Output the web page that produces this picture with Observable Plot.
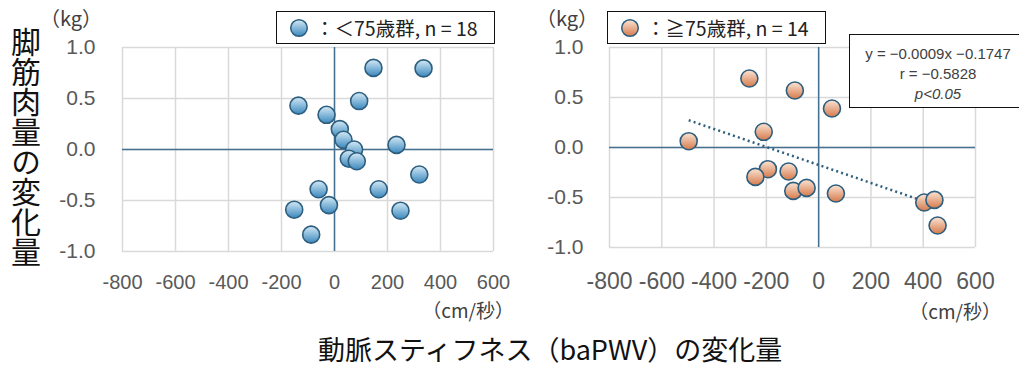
<!DOCTYPE html>
<html>
<head>
<meta charset="utf-8">
<script src="https://cdn.jsdelivr.net/npm/d3@7"></script>
<script src="https://cdn.jsdelivr.net/npm/@observablehq/plot@0.6"></script>
<style>
  html, body { margin: 0; padding: 0; background: #fff; }
  #wrap { position: relative; width: 1019px; height: 372px; overflow: hidden; background: #fff;
          font-family: "Noto Sans CJK JP", "Noto Sans", sans-serif; }
  .abs { position: absolute; white-space: nowrap; }
  .unit { font-size: 20px; color: #404040; line-height: 1; }
  .legend { border: 1.5px solid #111; background: #fff; box-sizing: border-box; height: 33px;
            font-size: 19.5px; color: #222; display: flex; align-items: center; padding-left: 12px; }
  .legend svg { margin-right: 6px; }
  .stats { border: 1.5px solid #111; background: #fff; box-sizing: border-box; font-family: "Liberation Sans", Arial, sans-serif;
           font-size: 15px; color: #404040; text-align: center; }
  .stats div { position: absolute; width: 176px; left: 0; text-align: center; line-height: 1; }
</style>
</head>
<body>
<div id="wrap"></div>
<script>
// ---- data ----
const xTicks = [-800, -600, -400, -200, 0, 200, 400, 600];
const yTicks = [-1.0, -0.5, 0.0, 0.5, 1.0];

// < 75 years group (n = 18)
const youngX = [147, 336, -136, 93, -30, 20, 34, 74, 234, 54, 84, 320, -60, 167, -21, -152, 249, -88];
const youngY = [0.80, 0.795, 0.43, 0.475, 0.34, 0.20, 0.095, 0.0, 0.045, -0.09, -0.115, -0.245, -0.39, -0.39, -0.545, -0.59, -0.60, -0.835];

// >= 75 years group (n = 14)
const oldX = [-265, -91, 51, -210, -497, -194, -242, -115, -97, -46, 66, 404, 443, 455];
const oldY = [0.69, 0.57, 0.39, 0.157, 0.063, -0.217, -0.294, -0.24, -0.434, -0.404, -0.46, -0.55, -0.524, -0.78];

// regression (>= 75 group): y = -0.0009x - 0.1747
const trendSlope = -0.0009;
const trendIntercept = -0.1747;

const young = youngX.map((x, i) => ({x, y: youngY[i]}));
const old = oldX.map((x, i) => ({x, y: oldY[i]}));
const trendXs = [d3.min(oldX), d3.max(oldX)];
const trend = trendXs.map(x => ({x, y: trendSlope * x + trendIntercept}));

const gridColor = "#d9d9d9";
const axisColor = "#46708f";
const dotStroke = "#2e5e7e";

function addGradients(svg) {
  const defs = d3.select(svg).insert("defs", ":first-child");
  const g1 = defs.append("linearGradient").attr("id", "gBlue").attr("x1", 0).attr("y1", 0).attr("x2", 0).attr("y2", 1);
  g1.append("stop").attr("offset", "0%").attr("stop-color", "#d4eaf6");
  g1.append("stop").attr("offset", "100%").attr("stop-color", "#3a87bd");
  const g2 = defs.append("linearGradient").attr("id", "gOrange").attr("x1", 0).attr("y1", 0).attr("x2", 0).attr("y2", 1);
  g2.append("stop").attr("offset", "0%").attr("stop-color", "#fbe4d5");
  g2.append("stop").attr("offset", "100%").attr("stop-color", "#d57a4a");
}

function panel(data, fillId, opts) {
  const marks = [
    Plot.gridX(xTicks, {stroke: gridColor, strokeOpacity: 1, strokeWidth: 1.5}),
    Plot.gridY(yTicks, {stroke: gridColor, strokeOpacity: 1, strokeWidth: 1.5}),
    Plot.ruleX([0], {stroke: axisColor, strokeWidth: 1.5}),
    Plot.ruleY([0], {stroke: axisColor, strokeWidth: 1.5}),
    Plot.axisY(yTicks, {tickSize: 0, tickPadding: opts.yPad, fontSize: 21, color: "#595959",
      tickFormat: d => d.toFixed(1), label: null}),
    Plot.axisX(xTicks, {tickSize: 0, tickPadding: opts.xPad, fontSize: opts.xFont, color: "#595959",
      tickFormat: d => String(d), label: null})
  ];
  if (opts.trend) {
    marks.push(Plot.line(opts.trend, {x: "x", y: "y", stroke: dotStroke, strokeWidth: 2.5,
      strokeDasharray: "2 3.2", strokeLinecap: "butt"}));
  }
  marks.push(Plot.dot(data, {x: "x", y: "y", r: 8.5, fill: `url(#${fillId})`, stroke: dotStroke, strokeWidth: 1.6}));
  const svg = Plot.plot({
    width: opts.width, height: 320,
    marginLeft: opts.ml, marginRight: opts.mr, marginTop: 47, marginBottom: opts.mb,
    x: {domain: [-800, 600]},
    y: {domain: [-1, 1]},
    style: {fontFamily: "'Liberation Sans', Arial, sans-serif", background: "transparent", overflow: "visible"},
    marks
  });
  addGradients(svg);
  return svg;
}

const wrap = document.getElementById("wrap");

const left = panel(young, "gBlue", {width: 510, ml: 122, mr: 17, mb: 69, yPad: 27, xPad: 23, xFont: 20});
left.style.position = "absolute"; left.style.left = "0px"; left.style.top = "0px";
wrap.appendChild(left);

const right = panel(old, "gOrange", {width: 509, ml: 99, mr: 44, mb: 73, yPad: 26, xPad: 25, xFont: 23, trend});
right.style.position = "absolute"; right.style.left = "510px"; right.style.top = "0px";
wrap.appendChild(right);

function el(html, cls, css) {
  const d = document.createElement("div");
  d.className = "abs " + (cls || "");
  d.innerHTML = html;
  Object.assign(d.style, css);
  wrap.appendChild(d);
  return d;
}

function marker(fill) {
  return `<svg width="20" height="20" viewBox="0 0 20 20"><defs><linearGradient id="${fill}L" x1="0" y1="0" x2="0" y2="1">` +
    (fill === "b" ? `<stop offset="0%" stop-color="#d4eaf6"/><stop offset="100%" stop-color="#3a87bd"/>`
                  : `<stop offset="0%" stop-color="#fbe4d5"/><stop offset="100%" stop-color="#d57a4a"/>`) +
    `</linearGradient></defs><circle cx="10" cy="10" r="8.3" fill="url(#${fill}L)" stroke="${dotStroke}" stroke-width="1.5"/></svg>`;
}

// y-axis title (vertical)
el("脚筋肉量の変化量", "", {left: "10px", top: "27px", fontSize: "30px", lineHeight: "32px",
  writingMode: "vertical-rl", color: "#111", letterSpacing: "0px"});
// x-axis title
el("動脈スティフネス（baPWV）の変化量", "", {left: "318px", top: "335px", fontSize: "27px", lineHeight: "1", color: "#111"});

// units
el("（kg）", "unit", {left: "40px", top: "8px"});
el("（kg）", "unit", {left: "536px", top: "8px"});
el("（cm/秒）", "unit", {right: `${1019 - 514}px`, top: "300px", fontSize: "19px"});
el("（cm/秒）", "unit", {right: `${1019 - 1001}px`, top: "301px", fontSize: "19px"});

// legends
el(marker("b") + "：＜75歳群, n = 18", "legend", {left: "276px", top: "11px", width: "219px"});
el(marker("o") + "：≧75歳群, n = 14", "legend", {left: "607px", top: "11px", width: "219px"});

// stats box
const st = el("", "stats", {left: "849px", top: "34px", width: "185px", height: "74px"});
st.innerHTML = `<div style="top:11px">y = −0.0009x −0.1747</div>` +
  `<div style="top:31px">r = −0.5828</div>` +
  `<div style="top:51px;font-style:italic">p&lt;0.05</div>`;
</script>
</body>
</html>
